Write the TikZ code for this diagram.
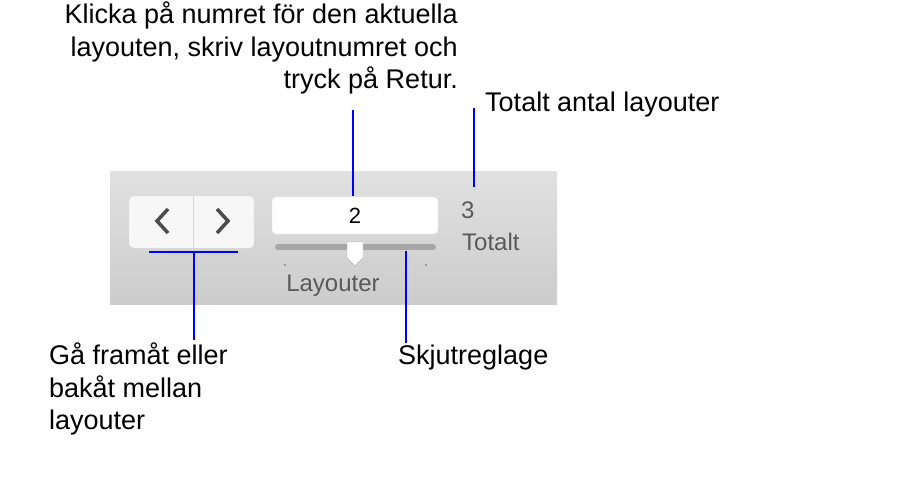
\documentclass[tikz,border=0pt]{standalone}
\usepackage{fontspec}
\setmainfont{Liberation Sans}
\begin{document}
\begin{tikzpicture}[x=1pt,y=-1pt,
  lbl/.style={font=\fontsize{27}{32.5}\selectfont, inner sep=0pt},
  ui/.style={font=\fontsize{24}{26}\selectfont, inner sep=0pt, text=black!65},
  callout/.style={draw=blue, line width=2.8pt}]
\useasboundingbox (0,0) rectangle (920,481);
\shade[top color=black!12, bottom color=black!20] (110,172) rectangle (557,304);
\node[draw=black!15, fill=white!97!black, rounded corners=4pt, minimum width=125pt, minimum height=52pt, inner sep=0pt] (nav) at (191.5,222) {};
\draw[black!15] (193,196) -- (193,248);
\draw[black!70, line width=3.5pt] (168,209) -- (157,221) -- (168,233);
\draw[black!70, line width=3.5pt] (217,209) -- (228,221) -- (217,233);
\node[draw=black!10, fill=white, rounded corners=4pt, minimum width=166pt, minimum height=37pt, inner sep=0pt, font=\fontsize{22}{22}\selectfont] (field) at (355,215.5) {2};
\draw[black!35, line width=6pt, line cap=round] (278,247) -- (433,247);
\draw[draw=black!30, fill=white] (347,242) -- (363,242) -- (363,258) -- (355,266) -- (347,258) -- cycle;
\fill[black!60] (285,265) circle (0.8); \fill[black!60] (426,265) circle (0.8);
\node[ui] (lay) at (333,286) {Layouter};
\node[ui, anchor=west] (three) at (461,210) {3};
\node[ui, anchor=west] (tot) at (462,242) {Totalt};
\node[lbl, align=right, anchor=north east] (t1) at (458,2) {Klicka på numret för den aktuella\\layouten, skriv layoutnumret och\\tryck på Retur.};
\node[lbl, anchor=west] (t2) at (485,105) {Totalt antal layouter};
\node[lbl, align=left, anchor=north west] (t3) at (49,343) {Gå framåt eller\\bakåt mellan\\layouter};
\node[lbl, anchor=west] (t4) at (398,358) {Skjutreglage};
\coordinate (a1) at (353,110); \coordinate (a2) at (353,196);
\draw[callout] (a1) -- (a2);
\coordinate (b1) at (474,108); \coordinate (b2) at (474,187);
\draw[callout] (b1) -- (b2);
\coordinate (c1) at (149,252); \coordinate (c2) at (238,252); \coordinate (c3) at (194,252); \coordinate (c4) at (194,340);
\draw[callout] (c1) -- (c2); \draw[callout] (c3) -- (c4);
\coordinate (d1) at (406,251); \coordinate (d2) at (406,343);
\draw[callout] (d1) -- (d2);
\end{tikzpicture}
\end{document}
